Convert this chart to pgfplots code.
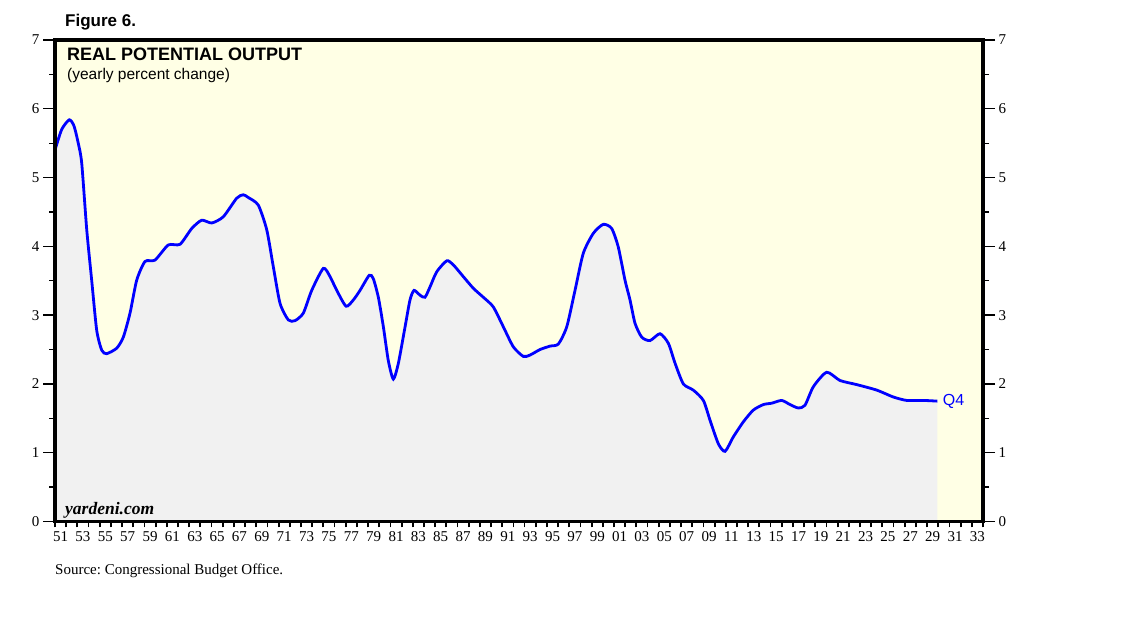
\documentclass[border=0pt]{standalone}
\usepackage{fontspec}
\usepackage{pgfplots}
\pgfplotsset{compat=1.18}
\usepackage{pgfplotstable}
\setmainfont{Liberation Serif}
\newfontfamily\arial{Liberation Sans}
\frenchspacing
\definecolor{bgyellow}{HTML}{FFFFE5}
\definecolor{fillgray}{HTML}{F1F1F1}
\definecolor{lineblue}{HTML}{0000FF}
\pgfplotstableread{
year val
1951.00 5.40
1951.60 5.70
1952.28 5.84
1952.70 5.75
1953.08 5.50
1953.39 5.21
1953.84 4.24
1954.28 3.51
1954.73 2.78
1955.18 2.49
1955.62 2.44
1956.52 2.52
1957.11 2.68
1957.71 3.03
1958.31 3.51
1959.05 3.78
1959.94 3.80
1961.13 4.02
1962.18 4.03
1963.23 4.26
1964.12 4.38
1965.02 4.34
1966.05 4.43
1967.25 4.70
1967.84 4.75
1968.29 4.71
1969.18 4.60
1969.94 4.24
1970.53 3.70
1971.13 3.17
1971.87 2.93
1972.47 2.92
1973.21 3.03
1973.96 3.36
1975.00 3.68
1975.60 3.56
1976.20 3.36
1977.03 3.13
1977.68 3.22
1978.28 3.36
1979.11 3.58
1979.47 3.53
1979.92 3.26
1980.37 2.83
1980.81 2.34
1981.26 2.07
1981.71 2.30
1982.31 2.83
1982.75 3.22
1983.11 3.36
1983.65 3.29
1984.09 3.26
1984.54 3.41
1985.14 3.63
1986.04 3.79
1986.63 3.73
1987.52 3.56
1988.42 3.39
1989.31 3.26
1990.20 3.12
1991.10 2.83
1991.99 2.54
1992.89 2.40
1993.49 2.42
1994.38 2.50
1995.28 2.55
1996.02 2.58
1996.77 2.83
1997.51 3.36
1998.25 3.90
1999.15 4.19
2000.04 4.32
2000.79 4.26
2001.38 3.99
2001.98 3.51
2002.43 3.22
2002.88 2.88
2003.48 2.68
2004.22 2.63
2005.11 2.73
2005.86 2.59
2006.46 2.30
2007.20 2.00
2008.09 1.91
2008.99 1.76
2009.59 1.47
2010.33 1.13
2010.93 1.02
2011.67 1.23
2012.57 1.45
2013.46 1.62
2014.36 1.70
2015.10 1.72
2016.00 1.76
2016.74 1.70
2017.48 1.65
2018.08 1.69
2018.83 1.96
2020.02 2.17
2021.21 2.05
2022.71 1.99
2024.50 1.91
2025.98 1.81
2027.18 1.76
2028.67 1.76
2029.92 1.75
}\potdata
\begin{document}
\begin{tikzpicture}
\useasboundingbox (0bp,0bp) rectangle (1138bp,621bp);
\pgfplotsset{base/.style={at={(55bp,99.5bp)}, anchor=south west, scale only axis,
  width=928bp, height=481.5bp, xmin=1951, xmax=2034, ymin=0, ymax=7,
  axis line style={line width=3.5bp, black}, tick align=outside,
  ticklabel style={font=\fontsize{15bp}{17bp}\selectfont},
  /pgf/number format/assume math mode=true}}
\begin{axis}[base, axis background/.style={fill=bgyellow}, axis on top,
  xtick={1951,1953,...,2033},
  xticklabels={51,53,55,57,59,61,63,65,67,69,71,73,75,77,79,81,83,85,87,89,91,93,95,97,99,01,03,05,07,09,11,13,15,17,19,21,23,25,27,29,31,33},
  xticklabel style={xshift=5.59bp, yshift=-1bp},
  minor xtick={1952,1954,...,2034},
  xtick pos=left, major tick length=6bp, minor tick length=6bp,
  tick style={line width=1.8bp, black},
  ytick=\empty]
\addplot[fill=fillgray, draw=none, smooth, tension=0.4] table[x=year,y=val]{\potdata} \closedcycle;
\addplot[lineblue, line width=2.8bp, smooth, tension=0.4] table[x=year,y=val]{\potdata};
\node[anchor=west, inner sep=0, text=lineblue, font=\fontsize{16bp}{18bp}\arial] at (axis cs:2030.4,1.75) {Q4};
\end{axis}
\begin{axis}[base, hide x axis, ytick={0,...,7}, minor ytick={0.5,1.5,...,6.5},
  major tick length=12bp, minor tick length=6bp, ytick pos=left,
  tick style={line width=1.3bp, black}]
\end{axis}
\begin{axis}[base, hide x axis, ytick={0,...,7}, minor ytick={0.5,1.5,...,6.5},
  major tick length=12bp, minor tick length=6bp, ytick pos=right, yticklabel pos=right,
  tick style={line width=1.3bp, black}]
\end{axis}
\node[anchor=base west, inner sep=0, font=\fontsize{17bp}{20bp}\arial\bfseries] at (65bp,594bp) {Figure 6.};
\node[anchor=base west, inner sep=0, font=\fontsize{18bp}{20bp}\arial\bfseries] at (67bp,560bp) {REAL POTENTIAL OUTPUT};
\node[anchor=base west, inner sep=0, font=\fontsize{15.5bp}{18bp}\arial] at (67bp,541bp) {(yearly percent change)};
\node[anchor=base west, inner sep=0, font=\fontsize{17.5bp}{19bp}\bfseries\itshape] at (65bp,106bp) {yardeni.com};
\node[anchor=base west, inner sep=0, font=\fontsize{15bp}{17bp}\selectfont] at (55bp,46bp) {Source: Congressional Budget Office.};
\end{tikzpicture}
\end{document}
